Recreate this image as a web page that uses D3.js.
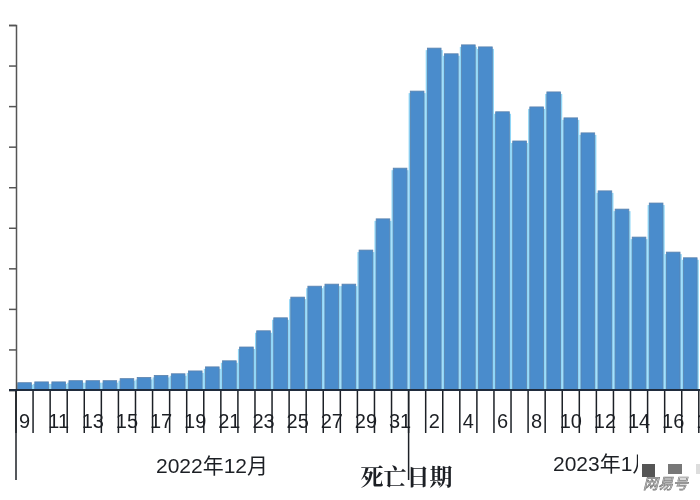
<!DOCTYPE html>
<html>
<head>
<meta charset="utf-8">
<script src="https://cdn.jsdelivr.net/npm/d3@7"></script>
<style>
html, body { margin: 0; padding: 0; background: #fff; overflow: hidden; }
svg { display: block; filter: blur(0.45px); }
text { font-family: "Liberation Sans", "Noto Sans CJK SC", sans-serif; fill: #1c1f24; }
</style>
</head>
<body>
<script>
// days shown on the axis, Dec 9 to Jan 18 (the 18th falls off the right edge)
const days = ["9","10","11","12","13","14","15","16","17","18","19","20","21","22","23","24","25","26","27","28","29","30","31",
  "1 ","2 ","3 ","4 ","5 ","6 ","7 ","8 ","9 ","10 ","11 ","12 ","13 ","14 ","15 ","16 ","17 ","18 "];
// the y axis has no labels so the unit is arbitrary
const deaths = [90,100,100,115,115,115,140,155,180,200,235,285,360,530,730,890,1145,1280,1305,1305,1725,2110,2735,
  3685,4215,4145,4255,4230,3430,3070,3490,3675,3355,3170,2455,2230,1885,2305,1700,1630];
const yTicks = [0,500,1000,1500,2000,2500,3000,3500,4000,4500];
const months = ["2022年12月", "2023年1月"];

const width = 700, height = 500;
const plotLeft = 16, base = 390, plotTop = 25;

const svg = d3.select("body").append("svg")
  .attr("width", width).attr("height", height);

const x = d3.scaleBand()
  .domain(days)
  .range([plotLeft, plotLeft + days.length * 17.07]);

const y = d3.scaleLinear()
  .domain([0, 4500])
  .range([base, plotTop]);

// light halo between the bars
svg.append("g").selectAll("rect")
  .data(deaths).enter()
  .append("rect")
  .attr("x", (d, i) => x(days[i]))
  .attr("y", d => y(d) + 2)
  .attr("width", x.bandwidth())
  .attr("height", d => base - y(d) - 2)
  .attr("fill", "#8fd6f7");

svg.append("g").selectAll("rect")
  .data(deaths).enter()
  .append("rect")
  .attr("x", (d, i) => x(days[i]) + 1.7)
  .attr("y", d => y(d))
  .attr("width", x.bandwidth() - 3.4)
  .attr("height", d => base - y(d))
  .attr("fill", "#4a8ccc")
  .attr("stroke", "#5d83ad")
  .attr("stroke-width", 0.8);

// y axis, ticks only
const yAxis = svg.append("g")
  .attr("transform", "translate(" + plotLeft + ",0)")
  .call(d3.axisLeft(y).tickValues(yTicks).tickSize(7).tickFormat(""));
yAxis.selectAll("line").attr("stroke", "#555").attr("stroke-width", 1.5);
yAxis.select(".domain").attr("stroke", "#555").attr("stroke-width", 1.5);

// day separators hang under the axis at the band edges
svg.append("g").selectAll("line")
  .data(days).enter()
  .append("line")
  .attr("x1", d => x(d))
  .attr("x2", d => x(d))
  .attr("y1", base)
  .attr("y2", 433)
  .attr("stroke", "#1c2026")
  .attr("stroke-width", 1.5);

// longer separators where the month changes
svg.append("g").selectAll("line")
  .data(["9", "1 "]).enter()
  .append("line")
  .attr("x1", d => x(d))
  .attr("x2", d => x(d))
  .attr("y1", base)
  .attr("y2", 480)
  .attr("stroke", "#1c2026")
  .attr("stroke-width", 1.5);

svg.append("line")
  .attr("x1", 9).attr("x2", width)
  .attr("y1", base).attr("y2", base)
  .attr("stroke", "#1f2b3c").attr("stroke-width", 1.8);

// every other day gets a label
svg.append("g").selectAll("text")
  .data(days.filter((d, i) => i % 2 == 0)).enter()
  .append("text")
  .attr("x", d => x(d) + x.bandwidth() / 2)
  .attr("y", 428)
  .attr("text-anchor", "middle")
  .attr("font-size", 20)
  .text(d => d.trim());

svg.append("text")
  .attr("x", 212).attr("y", 473)
  .attr("text-anchor", "middle")
  .attr("font-size", 21)
  .text(months[0]);

svg.append("text")
  .attr("x", 553).attr("y", 471)
  .attr("font-size", 21)
  .text(months[1]);

svg.append("text")
  .attr("x", 406.5).attr("y", 485)
  .attr("text-anchor", "middle")
  .attr("font-size", 23)
  .attr("font-weight", "bold")
  .style("font-family", "'Noto Serif CJK SC', 'Noto Sans CJK SC', serif")
  .text("死亡日期");

// watermark over the corner, it hides the end of the month label
svg.append("rect").attr("x", 638).attr("y", 450).attr("width", 62).attr("height", 50).attr("fill", "#fff");
svg.append("rect").attr("x", 642).attr("y", 464).attr("width", 13).attr("height", 13).attr("fill", "#555");
svg.append("rect").attr("x", 668).attr("y", 464).attr("width", 14).attr("height", 10).attr("fill", "#777");
svg.append("rect").attr("x", 696).attr("y", 464).attr("width", 4).attr("height", 10).attr("fill", "#ddd");

svg.append("text")
  .attr("x", 643).attr("y", 489)
  .attr("font-size", 15)
  .attr("font-style", "italic")
  .style("fill", "#fff")
  .style("stroke", "#777")
  .style("stroke-width", 0.7)
  .text("网易号");
</script>
</body>
</html>
